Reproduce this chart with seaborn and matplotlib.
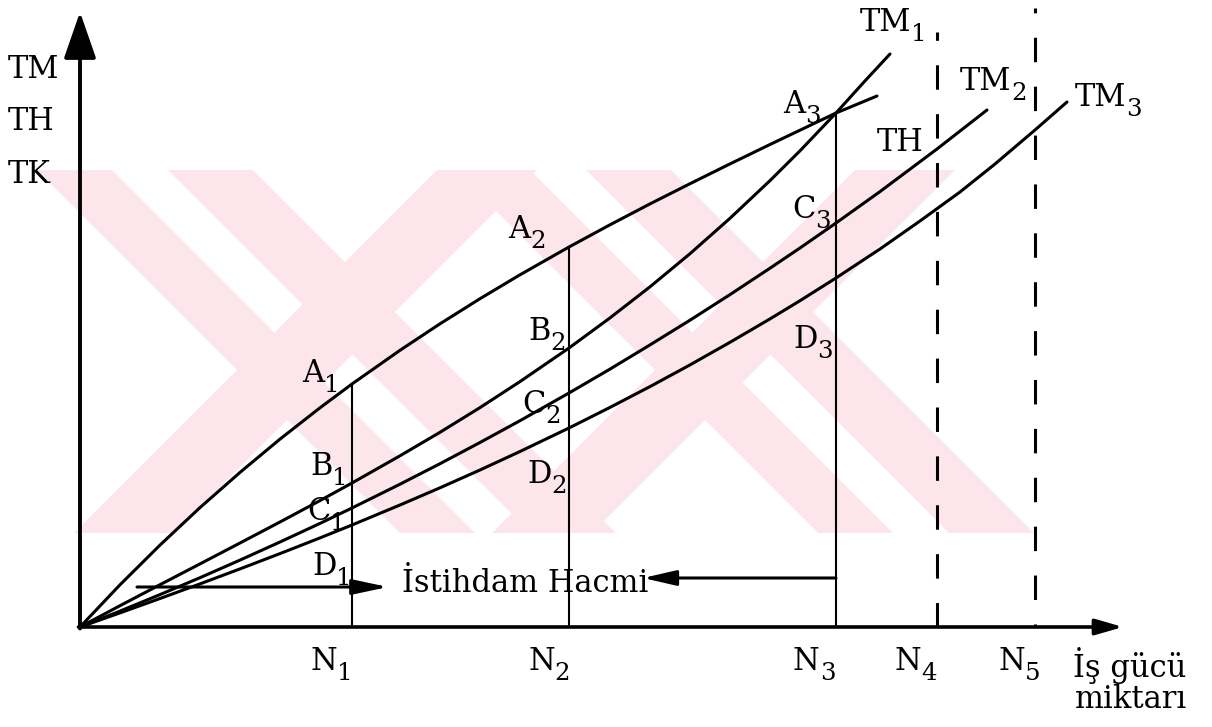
import matplotlib
matplotlib.use("Agg")
import matplotlib.pyplot as plt
import seaborn as sns
import pandas as pd

# ──────────────────────────────────────────────
# Data (labour on x, output / revenue on y)
# ──────────────────────────────────────────────

th_x = [0, 4, 8, 12, 16, 20, 24, 27.2, 32, 36, 40, 44, 48.9, 53, 57, 61, 65, 69, 72, 75.6, 79.7]
th_y = [0, 4.22, 8.19, 11.94, 15.46, 18.79, 21.92, 24.3, 27.67, 30.32, 32.83, 35.22, 38.0,
        40.22, 42.31, 44.33, 46.31, 48.25, 49.68, 51.4, 53.1]

tm1_x = [0, 4, 8, 12, 16, 20, 24, 27.2, 32, 36, 40, 44, 48.9, 53, 57, 61, 65, 69, 72, 75.6, 78.5, 81.0]
tm1_y = [0, 2.13, 4.23, 6.31, 8.40, 10.50, 12.64, 14.4, 17.12, 19.47, 21.94, 24.54, 27.9,
         30.91, 34.02, 37.33, 40.87, 44.64, 47.62, 51.4, 54.61, 57.3]

tm2_x = [0, 4, 8, 12, 16, 20, 24, 27.2, 32, 36, 40, 44, 48.9, 53, 57, 61, 65, 69, 72, 75.6, 80, 85.7, 90.7]
tm2_y = [0, 1.59, 3.24, 4.93, 6.69, 8.50, 10.36, 11.9, 14.28, 16.33, 18.45, 20.63, 23.4,
         25.79, 28.21, 30.68, 33.24, 35.88, 37.90, 40.4, 43.54, 47.8, 51.7]

tm3_x = [0, 4, 8, 12, 16, 20, 24, 27.2, 32, 36, 40, 44, 48.9, 53, 57, 61, 65, 69, 72, 75.6,
         80, 84, 88, 91.5, 95.5, 98.7]
tm3_y = [0, 1.41, 2.85, 4.31, 5.81, 7.34, 8.91, 10.2, 12.20, 13.92, 15.70, 17.55, 19.9,
         21.96, 24.04, 26.21, 28.47, 30.81, 32.63, 34.9, 37.8, 40.6, 43.5, 46.3, 49.7, 52.5]

n_names = ["1", "2", "3", "4", "5"]
n_x = [27.2, 48.9, 75.6, 85.7, 95.5]
a_y = [24.3, 38.0, 51.4]          # TH at N1..N3 (A points)
b_y = [14.4, 27.9]                # TM1 at N1, N2
c_y = [11.9, 23.4, 40.4]          # TM2 at N1..N3
d_y = [10.2, 19.9, 34.9]          # TM3 at N1..N3
dash_top = [59.5, 61.9]           # N4, N5 dashed guides

# ──────────────────────────────────────────────
# Style
# ──────────────────────────────────────────────

sns.set_theme(style="white")
plt.rcParams["font.family"] = ["DejaVu Serif"]
plt.rcParams["text.color"] = "black"
FS = 22
SUB = FS * 0.8
LW = 2.2
PINK = "#fce6eb"

fig = plt.figure(figsize=(12.12, 7.27), dpi=100)
ax = fig.add_axes([80 / 1212, 100 / 727, 1132 / 1212, 627 / 727])
ax.set_xlim(0, 113.2)
ax.set_ylim(0, 62.7)
ax.set_axis_off()

# ──────────────────────────────────────────────
# Faint background watermark: two crossed, striped "X" marks
# ──────────────────────────────────────────────

WM_TOP, WM_BOT = 45.7, 9.4
WM_H = WM_TOP - WM_BOT
for shift in (0, 41.8):
    # (left edge at top, right edge at top, direction: +1 = "\", -1 = "/")
    for x0, x1, d in [(-4.3, 3.2, 1), (8.8, 17.3, 1), (35.7, 45.7, -1)]:
        xs = [x0 + shift, x1 + shift, x1 + shift + d * WM_H, x0 + shift + d * WM_H]
        ax.fill(xs, [WM_TOP, WM_TOP, WM_BOT, WM_BOT], color=PINK, lw=0,
                zorder=0, clip_on=False)

curves = pd.concat([
    pd.DataFrame({"N": th_x, "Y": th_y, "egri": "TH"}),
    pd.DataFrame({"N": tm1_x, "Y": tm1_y, "egri": "TM1"}),
    pd.DataFrame({"N": tm2_x, "Y": tm2_y, "egri": "TM2"}),
    pd.DataFrame({"N": tm3_x, "Y": tm3_y, "egri": "TM3"}),
])
sns.lineplot(data=curves, x="N", y="Y", units="egri", estimator=None,
             color="black", lw=LW, sort=False, ax=ax, legend=False)

# vertical employment lines
ax.vlines(n_x[:3], 0, a_y, color="black", lw=1.5)
ax.vlines(n_x[3], 0, dash_top[0], color="black", lw=LW, linestyles=[(0, (8, 8))])
ax.vlines(n_x[4], 0, dash_top[1], color="black", lw=LW, linestyles=[(7, (8, 8))])

# axes with arrows
ax.annotate("", xy=(0, 61.5), xytext=(0, -0.15),
            arrowprops=dict(arrowstyle="-|>,head_length=1.44,head_width=0.5",
                            lw=2.8, color="black", shrinkA=0, shrinkB=0,
                            mutation_scale=20), annotation_clip=False)
ax.annotate("", xy=(104.3, 0), xytext=(-0.15, 0),
            arrowprops=dict(arrowstyle="-|>,head_length=0.83,head_width=0.24",
                            lw=2.6, color="black", shrinkA=0, shrinkB=0,
                            mutation_scale=20), annotation_clip=False)

# employment-volume arrows
ax.annotate("", xy=(30.8, 4.0), xytext=(5.7, 4.0),
            arrowprops=dict(arrowstyle="-|>,head_length=1.08,head_width=0.23",
                            lw=2.2, color="black", shrinkA=0, shrinkB=0,
                            mutation_scale=20))
ax.annotate("", xy=(56.3, 4.9), xytext=(n_x[2], 4.9),
            arrowprops=dict(arrowstyle="-|>,head_length=1.0,head_width=0.23",
                            lw=2.2, color="black", shrinkA=0, shrinkB=0,
                            mutation_scale=20))
ax.text(32.2, 3.5, "İstihdam Hacmi", fontsize=FS, ha="left", va="baseline")


def label(main, sub, x, y, dx, dy):
    """Main letters at a point offset, subscript hung off the right-bottom of them."""
    t = ax.annotate(main, xy=(x, y), xytext=(dx, dy), textcoords="offset pixels",
                    fontsize=FS, ha="left", va="baseline", annotation_clip=False)
    if sub:
        ax.annotate(sub, xy=(1, 0), xycoords=t, xytext=(0, -3),
                    textcoords="offset pixels", fontsize=SUB, ha="left",
                    va="baseline", annotation_clip=False)
    return t


# point labels
for i, (dx, dy) in enumerate([(-50, 2), (-61, 9), (-53, 0)]):
    label("A", str(i + 1), n_x[i], a_y[i], dx, dy)
for i, (dx, dy) in enumerate([(-42, 8), (-41, 8)]):
    label("B", str(i + 1), n_x[i], b_y[i], dx, dy)
for i, (dx, dy) in enumerate([(-45, -12), (-47, -20), (-44, 5)]):
    label("C", str(i + 1), n_x[i], c_y[i], dx, dy)
for i, (dx, dy) in enumerate([(-40, -50), (-42, -55), (-43, -70)]):
    label("D", str(i + 1), n_x[i], d_y[i], dx, dy)

# curve labels
label("TM", "1", tm1_x[-1], tm1_y[-1], -30, 23)
label("TM", "2", tm2_x[-1], tm2_y[-1], -27, 20)
label("TM", "3", tm3_x[-1], tm3_y[-1], 8, -4)
label("TH", "", th_x[-1], th_y[-1], 0, -55)

# N labels under the x axis
for name, x, dx in zip(n_names, n_x, [-42, -41, -43, -43, -37]):
    label("N", name, x, 0, dx, -43)

# axis titles
for txt, y in [("TM", 54.9), ("TH", 49.7), ("TK", 44.4)]:
    ax.text(-7.2, y, txt, fontsize=FS, ha="left", va="baseline")
ax.text(99.3, -5.0, "İş gücü", fontsize=FS, ha="left", va="baseline")
ax.text(99.5, -8.1, "miktarı", fontsize=FS, ha="left", va="baseline")

fig.savefig("out.png", dpi=100)
